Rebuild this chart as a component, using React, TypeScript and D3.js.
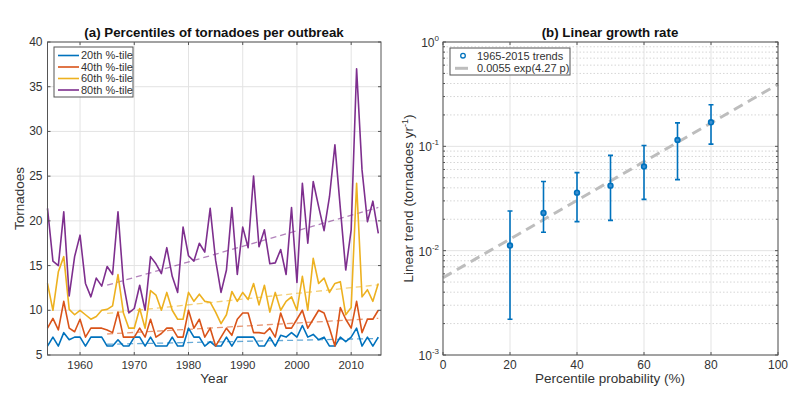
import React, { useEffect, useRef } from 'react'
import * as d3 from 'd3'

// ---- data ----
const years = d3.range(1954, 2016)

const p20 = [6, 7, 6, 7.5, 6.7, 7, 7, 6, 7, 7,
  7, 6, 6, 6.7, 6, 6, 7, 7, 6, 7,
  6, 6, 6, 7, 6, 6, 8, 7, 7, 6,
  6.5, 6, 6, 7, 6, 7, 7, 7, 7, 6,
  6, 7, 6, 7.2, 7, 7.5, 7, 8.3, 7, 7.3,
  6.7, 7, 6, 6, 7, 6.5, 7, 8, 6, 7,
  6, 7]
const p40 = [8, 9.1, 7.8, 11, 8, 7.6, 9, 7, 8, 8,
  8, 7.8, 7.5, 9.8, 7, 7, 7, 8, 7, 9,
  7, 7.4, 8, 8, 7, 7, 10, 8, 9, 7,
  8, 6, 7, 8, 7.2, 9, 9.7, 9.7, 7.5, 7.5,
  7.4, 8, 7, 9.7, 8, 8, 9, 10, 8, 9,
  10, 9.7, 8, 6, 10.3, 9, 8, 11, 7.5, 9,
  9, 10]
const p60 = [13, 10, 14.3, 16, 10.1, 9.5, 10, 9.5, 9, 9.3,
  10, 10.1, 10.5, 14, 9.7, 8, 8, 10.2, 8, 12.2,
  11.7, 10, 12, 10, 9, 9, 12, 11, 11.8, 11,
  10.9, 9.8, 8.5, 9.5, 12.1, 11, 12, 11.2, 13, 10.6,
  12.8, 9.8, 12, 10, 11, 11.5, 10, 13.8, 10, 15.8,
  13, 13.6, 12, 13, 13.2, 9.5, 10.3, 24.2, 11.5, 12.3,
  11, 13]
const p80 = [21.4, 15.5, 15.0, 21.0, 11.6, 16.0, 18.4, 13.0, 11.5, 13.6,
  12.7, 14.9, 14.0, 21.0, 13.0, 9.7, 10.2, 12.8, 10.0, 16.0,
  15.2, 14.1, 17.0, 13.8, 12.0, 19.3, 16.1, 15.5, 17.5, 16.5,
  21.4, 15.6, 12.0, 14.5, 21.5, 14.0, 19.3, 17.0, 25.0, 17.1,
  19.0, 15.2, 15.3, 16.8, 14.0, 21.5, 13.1, 24.2, 17.5, 24.4,
  21.6, 18.9, 22.7, 28.5, 21.4, 14.5, 19.0, 37.0, 25.7, 19.9,
  22.2, 18.6]

const seriesNames = ['20th %-tile', '40th %-tile', '60th %-tile', '80th %-tile']
const seriesColors = ['#0072BD', '#D95319', '#EDB120', '#7E2F8E']
const trendYears = [1965, 2015]
const trendStart = [6.2, 7.35, 9.65, 12.8]
const trendEnd = [6.85, 9.1, 12.85, 21.5]

const leftYTicks = [5, 10, 15, 20, 25, 30, 35, 40]
const leftXTicks = [1960, 1970, 1980, 1990, 2000, 2010]

// panel b
const pct = [20, 30, 40, 50, 60, 70, 80]
const trend = [0.0112, 0.023, 0.036, 0.042, 0.064, 0.115, 0.17]
const trendLo = [0.0022, 0.015, 0.019, 0.0195, 0.031, 0.048, 0.105]
const trendHi = [0.024, 0.046, 0.056, 0.082, 0.102, 0.168, 0.25]
const fitA = 0.0055
const fitB = 4.27
const rightXTicks = [0, 20, 40, 60, 80, 100]
const rightYExp = [-3, -2, -1, 0]

const W = 800
const H = 398
const top = 42
const bottom = 355
const font = 'Liberation Sans, Arial, Helvetica, sans-serif'
const txt = '#333333'
const boxCol = '#555555'
const gridCol = '#e3e3e3'

export default function App() {
  const node = useRef<SVGSVGElement>(null)

  useEffect(() => {
    const svg = d3.select(node.current)
    svg.selectAll('*').remove()
    svg.attr('viewBox', [0, 0, W, H].join(' '))
      .style('font-family', font)

    // ================= panel (a) =================
    const x = d3.scaleLinear().domain([1954, 2015.5]).range([47.5, 381])
    const y = d3.scaleLinear().domain([5, 40]).range([bottom, top])
    const a = svg.append('g')

    a.append('g').selectAll('line').data(leftXTicks).join('line')
      .attr('x1', d => x(d)).attr('x2', d => x(d))
      .attr('y1', top).attr('y2', bottom)
      .attr('stroke', gridCol)
    a.append('g').selectAll('line').data(leftYTicks).join('line')
      .attr('x1', x.range()[0]).attr('x2', x.range()[1])
      .attr('y1', d => y(d)).attr('y2', d => y(d))
      .attr('stroke', gridCol)

    const all = [p20, p40, p60, p80]
    const line = d3.line<number>()
      .x((d, i) => x(years[i]))
      .y(d => y(d))

    // dashed trends
    all.forEach((s, k) => {
      a.append('line')
        .attr('x1', x(trendYears[0])).attr('x2', x(trendYears[1]))
        .attr('y1', y(trendStart[k])).attr('y2', y(trendEnd[k]))
        .attr('stroke', seriesColors[k])
        .attr('stroke-opacity', 0.6)
        .attr('stroke-width', 1.3)
        .attr('stroke-dasharray', '6,4')
    })
    all.forEach((s, k) => {
      a.append('path')
        .datum(s)
        .attr('d', line)
        .attr('fill', 'none')
        .attr('stroke', seriesColors[k])
        .attr('stroke-width', 1.6)
        .attr('stroke-linejoin', 'round')
    })

    // box + ticks
    a.append('rect')
      .attr('x', x.range()[0]).attr('y', top)
      .attr('width', x.range()[1] - x.range()[0]).attr('height', bottom - top)
      .attr('fill', 'none').attr('stroke', boxCol)
    a.append('g').selectAll('path').data(leftXTicks).join('path')
      .attr('d', d => `M${x(d)},${bottom}v-3M${x(d)},${top}v3`)
      .attr('stroke', boxCol)
    a.append('g').selectAll('path').data(leftYTicks).join('path')
      .attr('d', d => `M${x.range()[0]},${y(d)}h3M${x.range()[1]},${y(d)}h-3`)
      .attr('stroke', boxCol)

    a.append('g').selectAll('text').data(leftXTicks).join('text')
      .attr('x', d => x(d)).attr('y', bottom + 14)
      .attr('text-anchor', 'middle').attr('font-size', 11.5).attr('fill', txt)
      .text(d => d)
    a.append('g').selectAll('text').data(leftYTicks).join('text')
      .attr('x', x.range()[0] - 5).attr('y', d => y(d) + 4)
      .attr('text-anchor', 'end').attr('font-size', 12).attr('fill', txt)
      .text(d => d)

    a.append('text')
      .attr('x', 214).attr('y', 37)
      .attr('text-anchor', 'middle').attr('font-size', 13.3).attr('font-weight', 'bold')
      .attr('fill', '#111')
      .text('(a) Percentiles of tornadoes per outbreak')
    a.append('text')
      .attr('x', 214).attr('y', 383)
      .attr('text-anchor', 'middle').attr('font-size', 13.5).attr('fill', txt)
      .text('Year')
    a.append('text')
      .attr('transform', `translate(24,${(top + bottom) / 2}) rotate(-90)`)
      .attr('text-anchor', 'middle').attr('font-size', 13.5).attr('fill', txt)
      .text('Tornadoes')

    // legend
    const lg = a.append('g')
    lg.append('rect')
      .attr('x', 54).attr('y', 47).attr('width', 79).attr('height', 50)
      .attr('fill', 'white').attr('stroke', boxCol)
    seriesNames.forEach((nm, k) => {
      const yy = 55.5 + k * 11.5
      lg.append('line')
        .attr('x1', 58).attr('x2', 79).attr('y1', yy).attr('y2', yy)
        .attr('stroke', seriesColors[k]).attr('stroke-width', 1.6)
      lg.append('text')
        .attr('x', 81).attr('y', yy + 3.9)
        .attr('font-size', 11).attr('fill', txt)
        .text(nm)
    })

    // ================= panel (b) =================
    const xb = d3.scaleLinear().domain([0, 100]).range([443, 778])
    const yb = d3.scaleLog().domain([1e-3, 1]).range([bottom, top])
    const b = svg.append('g')

    const minor: number[] = []
    rightYExp.slice(0, -1).forEach(e => {
      d3.range(2, 10).forEach(m => minor.push(m * Math.pow(10, e)))
    })
    b.append('g').selectAll('line').data(minor).join('line')
      .attr('x1', xb.range()[0]).attr('x2', xb.range()[1])
      .attr('y1', d => yb(d)).attr('y2', d => yb(d))
      .attr('stroke', '#d6d6d6').attr('stroke-dasharray', '1.5,2')
    b.append('g').selectAll('line').data(rightYExp).join('line')
      .attr('x1', xb.range()[0]).attr('x2', xb.range()[1])
      .attr('y1', d => yb(Math.pow(10, d))).attr('y2', d => yb(Math.pow(10, d)))
      .attr('stroke', gridCol)
    b.append('g').selectAll('line').data(rightXTicks).join('line')
      .attr('x1', d => xb(d)).attr('x2', d => xb(d))
      .attr('y1', top).attr('y2', bottom)
      .attr('stroke', gridCol)

    // fit curve
    const fitP = d3.range(0, 101, 2)
    b.append('path')
      .datum(fitP)
      .attr('d', d3.line<number>().x(d => xb(d)).y(d => yb(fitA * Math.exp(fitB * d / 100))))
      .attr('fill', 'none').attr('stroke', '#bdbdbd')
      .attr('stroke-width', 3).attr('stroke-dasharray', '10,6')

    // error bars
    const eb = b.append('g').attr('stroke', '#0072BD').attr('stroke-width', 1.6)
    pct.forEach((p, i) => {
      const cx = xb(p)
      eb.append('path')
        .attr('d', `M${cx},${yb(trendLo[i])}V${yb(trendHi[i])}` +
          `M${cx - 2.5},${yb(trendLo[i])}h5M${cx - 2.5},${yb(trendHi[i])}h5`)
        .attr('fill', 'none')
      eb.append('circle')
        .attr('cx', cx).attr('cy', yb(trend[i])).attr('r', 2.4)
        .attr('fill', '#3d8fd0')
    })

    b.append('rect')
      .attr('x', xb.range()[0]).attr('y', top)
      .attr('width', xb.range()[1] - xb.range()[0]).attr('height', bottom - top)
      .attr('fill', 'none').attr('stroke', boxCol)
    b.append('g').selectAll('path').data(rightXTicks).join('path')
      .attr('d', d => `M${xb(d)},${bottom}v-3M${xb(d)},${top}v3`)
      .attr('stroke', boxCol)
    b.append('g').selectAll('path').data(rightYExp).join('path')
      .attr('d', d => `M${xb.range()[0]},${yb(Math.pow(10, d))}h3M${xb.range()[1]},${yb(Math.pow(10, d))}h-3`)
      .attr('stroke', boxCol)
    b.append('g').selectAll('path').data(minor).join('path')
      .attr('d', d => `M${xb.range()[0]},${yb(d)}h2M${xb.range()[1]},${yb(d)}h-2`)
      .attr('stroke', boxCol)

    b.append('g').selectAll('text').data(rightXTicks).join('text')
      .attr('x', d => xb(d)).attr('y', bottom + 14)
      .attr('text-anchor', 'middle').attr('font-size', 12).attr('fill', txt)
      .text(d => d)
    const yl = b.append('g').selectAll('text').data(rightYExp).join('text')
      .attr('x', xb.range()[0] - 4).attr('y', d => yb(Math.pow(10, d)) + 5)
      .attr('text-anchor', 'end').attr('fill', txt)
    yl.append('tspan').attr('font-size', 12).text('10')
    yl.append('tspan').attr('font-size', 8).attr('dy', -6).text(d => d)

    b.append('text')
      .attr('x', 610).attr('y', 37)
      .attr('text-anchor', 'middle').attr('font-size', 13.3).attr('font-weight', 'bold')
      .attr('fill', '#111')
      .text('(b) Linear growth rate')
    b.append('text')
      .attr('x', 610).attr('y', 383)
      .attr('text-anchor', 'middle').attr('font-size', 13.5).attr('fill', txt)
      .text('Percentile probability (%)')
    const ylab = b.append('text')
      .attr('transform', `translate(413,${(top + bottom) / 2}) rotate(-90)`)
      .attr('text-anchor', 'middle').attr('font-size', 13.5).attr('fill', txt)
    ylab.append('tspan').text('Linear trend (tornadoes yr')
    ylab.append('tspan').attr('font-size', 9).attr('dy', -5).text('-1')
    ylab.append('tspan').attr('dy', 5).text(')')

    // legend
    const lb = b.append('g')
    lb.append('rect')
      .attr('x', 450).attr('y', 48).attr('width', 120).attr('height', 27)
      .attr('fill', 'white').attr('stroke', boxCol)
    lb.append('circle')
      .attr('cx', 463).attr('cy', 55.7).attr('r', 2.3)
      .attr('fill', 'none').attr('stroke', '#0072BD').attr('stroke-width', 1.3)
    lb.append('text')
      .attr('x', 477).attr('y', 59.7).attr('font-size', 11).attr('fill', txt)
      .text('1965-2015 trends')
    lb.append('line')
      .attr('x1', 455).attr('x2', 468).attr('y1', 68.3).attr('y2', 68.3)
      .attr('stroke', '#bdbdbd').attr('stroke-width', 3)
    lb.append('text')
      .attr('x', 477).attr('y', 72.2).attr('font-size', 11).attr('fill', txt)
      .text('0.0055 exp(4.27 p)')
  }, [])

  return (
    <svg ref={node} width={W} height={H}
      style={{ position: 'absolute', left: 0, top: 0, background: 'white' }} />
  )
}
